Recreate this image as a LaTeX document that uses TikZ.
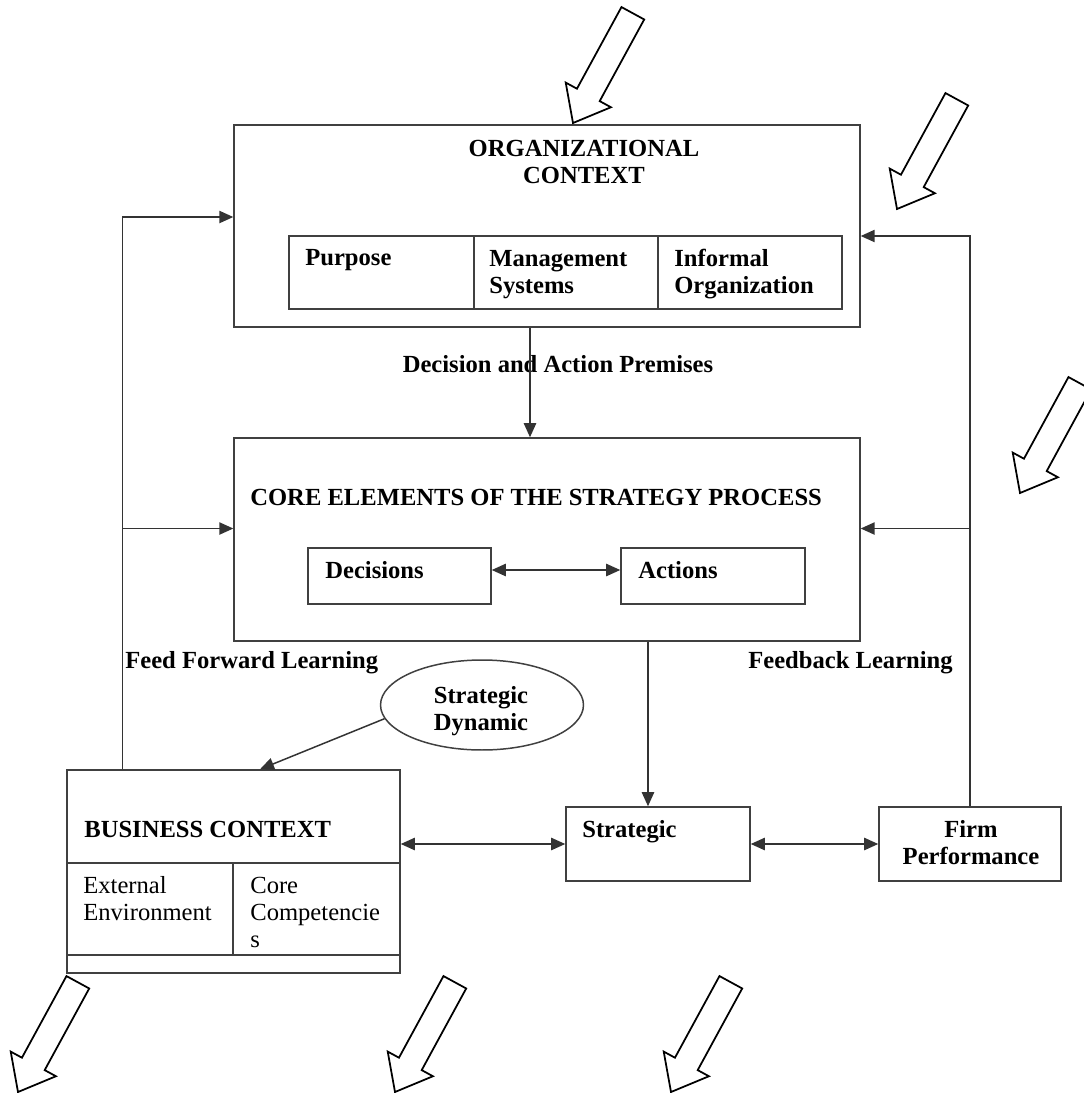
\documentclass[tikz,border=0pt]{standalone}
\usepackage{fontspec}
\setmainfont{Liberation Serif}
\usetikzlibrary{arrows.meta,shapes.geometric}

\tikzset{
  hollow/.pic={
    \draw[line width=1pt, line join=miter]
      (0,0) -- (32,25.75) -- (32,12.95) -- (125,12.95)
      -- (125,-12.95) -- (32,-12.95) -- (32,-25.75) -- cycle;
  }
}

\begin{document}
\begin{tikzpicture}[x=0.02cm, y=-0.02cm, >={Triangle[length=8pt,width=7pt]}]
  \tikzstyle{box}=[draw=black!75, line width=0.85pt, inner sep=0pt]
  \tikzstyle{txt}=[inner sep=0pt, font=\fontsize{14}{15.3}\selectfont\bfseries, align=left, anchor=base west]
  \tikzstyle{reg}=[txt, font=\fontsize{14}{15.3}\selectfont]
  \tikzstyle{mid}=[txt, align=center, anchor=base]
  \tikzstyle{link}=[draw=black!80, line width=0.85pt]

  \useasboundingbox (0,0) rectangle (1083,1093);

  % organizational context
  \node[box, minimum width=12.52cm, minimum height=4.04cm] (org) at (547,226) {};
  \node[mid] (orgT) at (584,183) {ORGANIZATIONAL\\CONTEXT};
  \node[box, minimum width=3.70cm, minimum height=1.46cm] (purpose)  at (381.5,272.5) {};
  \node[box, minimum width=3.68cm, minimum height=1.46cm] (mgmt)     at (566,272.5)   {};
  \node[box, minimum width=3.68cm, minimum height=1.46cm] (informal) at (750,272.5)   {};
  \node[txt] (purposeT)  at (305,265) {Purpose};
  \node[txt] (mgmtT)     at (489,293) {Management\\Systems};
  \node[txt] (informalT) at (674,293) {Informal\\Organization};

  \node[mid] (premises) at (558,372) {Decision and Action Premises};

  % core elements
  \node[box, minimum width=12.52cm, minimum height=4.06cm] (core) at (547,539.5) {};
  \node[txt] (coreT) at (250,505) {CORE ELEMENTS OF THE STRATEGY PROCESS};
  \node[box, minimum width=3.66cm, minimum height=1.12cm] (decisions) at (399.5,576) {};
  \node[box, minimum width=3.68cm, minimum height=1.12cm] (actions)   at (713,576)   {};
  \node[txt] (decisionsT) at (325,578) {Decisions};
  \node[txt] (actionsT)   at (638,578) {Actions};

  \node[txt] (ffwdT)  at (125,668) {Feed Forward Learning};
  \node[txt] (fbackT) at (748,668) {Feedback Learning};

  \node[box, ellipse, minimum width=4.06cm, minimum height=1.8cm] (dyn) at (482,705) {};
  \node[mid] (dynT) at (481,730) {Strategic\\Dynamic};

  % business context
  \node[box, minimum width=6.66cm, minimum height=4.06cm] (biz)  at (233.5,871.5) {};
  \node[box, minimum width=3.32cm, minimum height=1.84cm] (ext)  at (150,909)     {};
  \node[box, minimum width=3.34cm, minimum height=1.84cm] (comp) at (316.5,909)   {};
  \node[txt] (bizT)  at (84,837)  {BUSINESS CONTEXT};
  \node[reg] (extT)  at (83,920)  {External\\Environment};
  \node[reg] (compT) at (250,947) {Core\\Competencie\\s};

  \node[box, minimum width=3.68cm, minimum height=1.48cm] (strat) at (658,844) {};
  \node[txt] (stratT) at (582,837) {Strategic};
  \node[box, minimum width=3.64cm, minimum height=1.48cm] (firm) at (970,844) {};
  \node[mid] (firmT) at (971,864) {Firm\\Performance};

  % connectors
  \draw[link, ->] ([xshift=-0.34cm]org.south) -- ([xshift=-0.34cm]core.north);
  \draw[link, <->] ([yshift=0.12cm]decisions.east) -- ([yshift=0.12cm]actions.west);
  \draw[link, ->] ([xshift=2.02cm]core.south) -- ([xshift=2.02cm]core.south |- strat.north);
  \draw[link, <->] (biz.east |- strat.west) -- (strat.west);
  \draw[link, <->] (strat.east) -- (firm.west);
  \draw[link, ->] (dyn.188) -- ([xshift=0.53cm]biz.north);

  % learning loops
  \coordinate (ffw)   at ([xshift=-2.22cm]biz.north);
  \coordinate (coreL) at ([yshift=0.22cm]core.west);
  \coordinate (coreR) at ([yshift=0.22cm]core.east);
  \draw[link, ->] (ffw) |- ([yshift=0.18cm]org.west);
  \draw[link, ->] (ffw |- coreL) -- (coreL);
  \draw[link, ->] (firm.north) |- ([yshift=-0.2cm]org.east);
  \draw[link, ->] (firm.north |- coreR) -- (coreR);

  % hollow arrows
  \foreach \x/\y in {573/123, 897/209, 1020/493, 18/1092, 395/1092, 671/1092}
    \pic[rotate=61.4] at (\x,\y) {hollow};
\end{tikzpicture}
\end{document}
